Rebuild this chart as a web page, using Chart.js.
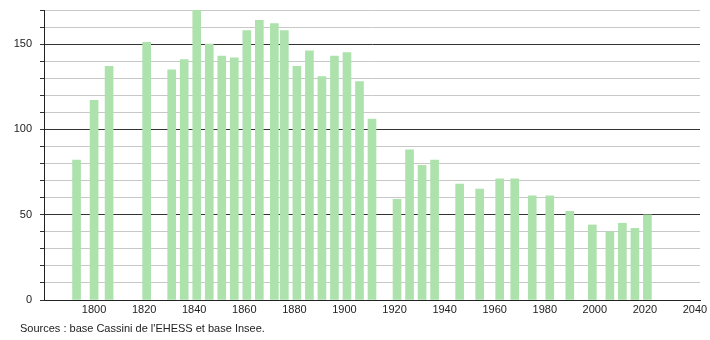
<!DOCTYPE html>
<html>
<head>
<meta charset="utf-8">
<script src="https://cdn.jsdelivr.net/npm/chart.js@4"></script>
<style>
  html, body { margin: 0; padding: 0; background: #fff; }
  #wrap { width: 710px; height: 340px; position: relative; }
</style>
</head>
<body>
<div id="wrap"><canvas id="popChart" width="710" height="340"></canvas></div>
<script>
// census years and population
const years = [1793, 1800, 1806, 1821, 1831, 1836, 1841, 1846, 1851, 1856,
  1861, 1866, 1872, 1876, 1881, 1886, 1891, 1896, 1901, 1906,
  1911, 1921, 1926, 1931, 1936, 1946, 1954, 1962, 1968, 1975,
  1982, 1990, 1999, 2006, 2011, 2016, 2021];
const population = [82, 117, 137, 151, 135, 141, 170, 150, 143, 142,
  158, 164, 162, 158, 137, 146, 131, 143, 145, 128,
  106, 59, 88, 79, 82, 68, 65, 71, 71, 61,
  61, 52, 44, 40, 45, 42, 50];
const xTicks = [1800, 1820, 1840, 1860, 1880, 1900, 1920, 1940, 1960, 1980, 2000, 2020, 2040];
const yLabels = [0, 50, 100, 150];
const sourceText = "Sources : base Cassini de l'EHESS et base Insee.";

const points = years.map((y, i) => ({ x: y, y: population[i] }));

const sourcePlugin = {
  id: 'sourceNote',
  afterDraw(chart) {
    const ctx = chart.ctx;
    ctx.save();
    ctx.font = '11px "Liberation Sans", Arial, sans-serif';
    ctx.fillStyle = '#222';
    ctx.textBaseline = 'alphabetic';
    ctx.fillText(sourceText, 20, 332);
    ctx.restore();
  }
};

Chart.defaults.font.family = '"Liberation Sans", Arial, sans-serif';
Chart.defaults.font.size = 11;
Chart.defaults.color = '#222';

new Chart(document.getElementById('popChart').getContext('2d'), {
  type: 'bar',
  data: {
    datasets: [{
      data: points,
      backgroundColor: '#ade2ad',
      barThickness: 8
    }]
  },
  options: {
    responsive: false,
    animation: false,
    layout: { padding: { left: 0, top: 10, right: 10, bottom: 0 } },
    plugins: { legend: { display: false }, tooltip: { enabled: false } },
    scales: {
      x: {
        type: 'linear',
        offset: false,
        min: 1780,
        max: 2042,
        grid: { display: false, drawTicks: false, tickLength: 0 },
        border: { display: true, color: '#222', width: 1 },
        ticks: {
          stepSize: 20,
          includeBounds: false,
          autoSkip: false,
          maxRotation: 0,
          padding: 3,
          callback: v => xTicks.includes(v) ? String(v) : ''
        },
        afterFit: s => { s.height = 40; s.paddingLeft = 0; s.paddingRight = 0; }
      },
      y: {
        min: 0,
        max: 170,
        grid: {
          color: c => (c.tick.value % 50 === 0 ? '#333' : '#c8c8c8'),
          tickColor: '#333',
          tickLength: 4,
          lineWidth: 1
        },
        border: { display: true, color: '#222', width: 1 },
        ticks: {
          stepSize: 10,
          padding: 8,
          callback: v => yLabels.includes(v) ? String(v) : ''
        },
        afterFit: s => { s.width = 44; s.paddingTop = 0; s.paddingBottom = 0; }
      }
    }
  },
  plugins: [sourcePlugin]
});
</script>
</body>
</html>
